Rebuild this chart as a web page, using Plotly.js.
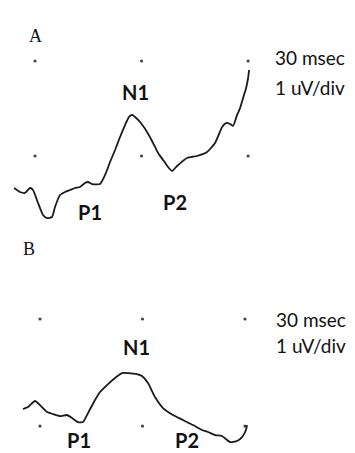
<!DOCTYPE html>
<html><head><meta charset="utf-8">
<script src="https://cdn.plot.ly/plotly-3.0.1.min.js"></script>
<style>html,body{margin:0;padding:0;background:#fff}#chart{width:355px;height:453px}</style>
</head><body><div id="chart"></div>
<script>
// Panel A waveform: time (msec) and amplitude (uV)
var timeA = [-5.92,-4.23,-2.82,-1.41,-0.56,0.85,2.25,3.38,4.79,5.63,7.04,8.45,9.86,11.27,12.68,14.08,14.93,16.06,18.31,19.72,21.13,22.54,23.94,25.35,26.48,27.32,28.17,29.58,31.55,33.24,34.65,36.06,37.46,38.59,40.0,42.82,45.63,48.45,50.70,52.68,53.8,54.93,55.77,56.9,57.75,58.59,59.44,60.0,60.28];
var ampA = [-0.337,-0.379,-0.389,-0.337,-0.358,-0.495,-0.621,-0.653,-0.642,-0.537,-0.411,-0.379,-0.358,-0.337,-0.326,-0.284,-0.274,-0.295,-0.295,-0.2,-0.063,0.063,0.2,0.326,0.411,0.432,0.411,0.358,0.253,0.137,0.032,-0.042,-0.116,-0.158,-0.105,-0.021,0.0,0.042,0.137,0.305,0.347,0.337,0.316,0.432,0.505,0.611,0.716,0.821,0.905];
// Panel B waveform
var timeB = [-4.98,-3.51,-1.46,0,2.05,3.80,5.85,7.90,9.37,11.12,12.59,14.05,16.10,17.56,19.61,21.95,24.0,25.76,28.39,29.85,31.61,33.66,36.0,38.93,41.85,44.78,47.41,49.17,51.22,53.27,55.61,57.66,59.12,60.29,60.59];
var ampB = [0.159,0.178,0.234,0.196,0.131,0.112,0.093,0.103,0.075,0.037,0.037,0.121,0.243,0.318,0.383,0.449,0.495,0.495,0.486,0.467,0.402,0.271,0.168,0.103,0.056,0.009,-0.037,-0.056,-0.084,-0.093,-0.150,-0.140,-0.103,-0.037,0.009];
// Division grid (30 msec x 1 uV)
var gridT = [0,30,60,0,30,60];
var gridV = [1,1,1,0,0,0];
// Peak labels: [label, time, amplitude]
var peaksA = [["N1",28.2,0.67],["P1",15.5,-0.59],["P2",39.4,-0.48]];
var peaksB = [["N1",28.1,0.74],["P1",11.4,-0.135],["P2",43.0,-0.135]];
var scaleText = ["30 msec","1 uV/div"];

var lineStyle = {color:'#1a1a1a', width:1.8, shape:'spline', smoothing:0.5};
var dotStyle = {color:'#444', size:3.2};
var data = [
  {x:gridT, y:gridV, mode:'markers', marker:dotStyle, xaxis:'x', yaxis:'y', hoverinfo:'skip'},
  {x:timeA, y:ampA, mode:'lines', line:lineStyle, xaxis:'x', yaxis:'y'},
  {x:gridT, y:gridV, mode:'markers', marker:dotStyle, xaxis:'x2', yaxis:'y2', hoverinfo:'skip'},
  {x:timeB, y:ampB, mode:'lines', line:lineStyle, xaxis:'x2', yaxis:'y2'}
];
var ax = {visible:false, showgrid:false, zeroline:false, fixedrange:true};
var peakFont = {family:'Lato, "Open Sans", sans-serif', size:20, color:'#111'};
var ann = [];
peaksA.forEach(function(p){ann.push({xref:'x',yref:'y',x:p[1],y:p[2],text:'<b>'+p[0]+'</b>',showarrow:false,font:peakFont});});
peaksB.forEach(function(p){ann.push({xref:'x2',yref:'y2',x:p[1],y:p[2],text:'<b>'+p[0]+'</b>',showarrow:false,font:peakFont});});
var scFont = {family:'Lato, "Open Sans", sans-serif', size:19, color:'#111'};
ann.push({xref:'x',yref:'y',x:67.0,y:1.04,xanchor:'left',text:scaleText[0],showarrow:false,font:scFont});
ann.push({xref:'x',yref:'y',x:67.0,y:0.72,xanchor:'left',text:scaleText[1],showarrow:false,font:scFont});
ann.push({xref:'x2',yref:'y2',x:68.5,y:1.0,xanchor:'left',text:scaleText[0],showarrow:false,font:scFont});
ann.push({xref:'x2',yref:'y2',x:68.5,y:0.75,xanchor:'left',text:scaleText[1],showarrow:false,font:scFont});
var letFont = {family:'"Liberation Serif", "DejaVu Serif", serif', size:18, color:'#111'};
ann.push({xref:'paper',yref:'paper',x:27/355,y:1-24/453,text:'A',showarrow:false,font:letFont});
ann.push({xref:'paper',yref:'paper',x:21/355,y:1-249/453,text:'B',showarrow:false,font:letFont});

var layout = {
  width:355, height:453, margin:{l:0,r:0,t:0,b:0},
  paper_bgcolor:'#fff', plot_bgcolor:'rgba(0,0,0,0)', showlegend:false,
  xaxis: Object.assign({range:[-9.86,90.1], domain:[0,1], anchor:'y'}, ax),
  yaxis: Object.assign({range:[-0.779,1.642], domain:[0.4923,1], anchor:'x'}, ax),
  xaxis2: Object.assign({range:[-11.707,92.195], domain:[0,1], anchor:'y2'}, ax),
  yaxis2: Object.assign({range:[-0.252,1.832], domain:[0,0.4923], anchor:'x2'}, ax),
  annotations: ann
};
Plotly.newPlot('chart', data, layout, {displayModeBar:false, staticPlot:true});
</script></body></html>
